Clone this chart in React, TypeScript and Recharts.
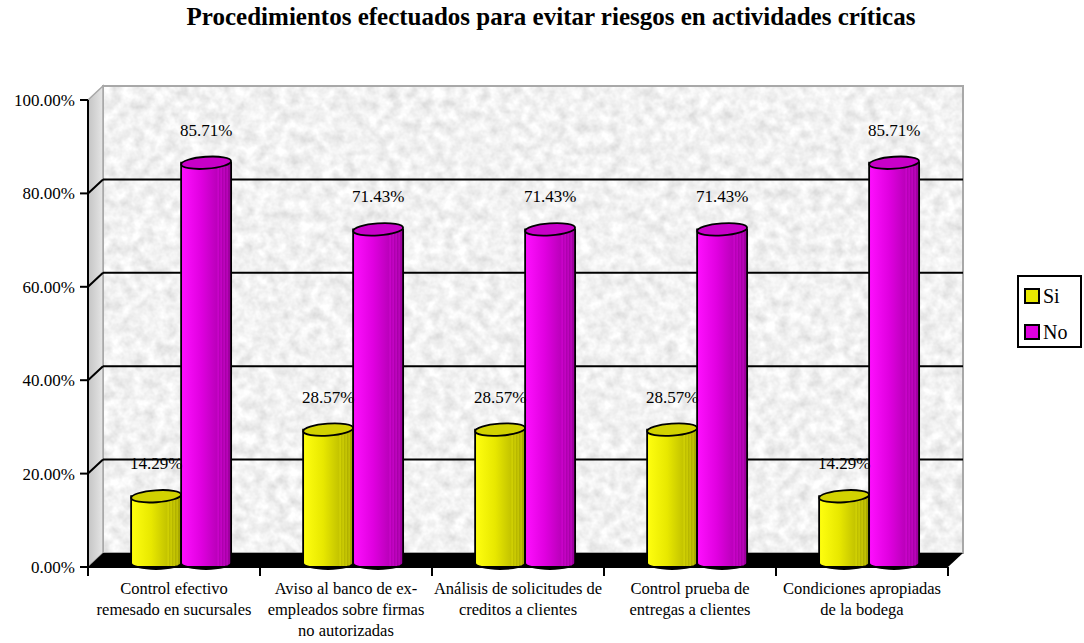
import { BarChart, Bar, XAxis, YAxis, Legend, LabelList, Customized } from 'recharts';

const categories = [
  'Control efectivo\nremesado en sucursales',
  'Aviso al banco de ex-\nempleados sobre firmas\nno autorizadas',
  'Análisis de solicitudes de\ncreditos a clientes',
  'Control prueba de\nentregas a clientes',
  'Condiciones apropiadas\nde la bodega',
];
const siValues = [14.29, 28.57, 28.57, 28.57, 14.29];
const noValues = [85.71, 71.43, 71.43, 71.43, 85.71];
const seriesNames = ['Si', 'No'];
const yTicks = [0, 20, 40, 60, 80, 100];

const data = categories.map((name, i) => ({ name, Si: siValues[i], No: noValues[i] }));

const FONT = "'Liberation Serif', 'Times New Roman', serif";
const W = 1084;
const H = 643;
// plot area (front face)
const PL = 88;
const PR = 948;
const PT = 100;
const PB = 567;
// 3D depth of the back wall
const DX = 15;
const DY = -14;
// cylinders sit halfway into the depth
const BX = 7;
const BY = -4;

const COLORS: Record<string, { light: string; mid: string; dark: string; top: string }> = {
  Si: { light: '#ffff10', mid: '#e8e800', dark: '#a4a400', top: '#d2d200' },
  No: { light: '#ff10ff', mid: '#e000e0', dark: '#9a009a', top: '#c800c8' },
};

const yPos = (v: number) => PB - (v / 100) * (PB - PT);

const Walls = () => (
  <g>
    <defs>
      <filter id="marble" x="0" y="0" width="100%" height="100%">
        <feTurbulence type="fractalNoise" baseFrequency="0.09" numOctaves="3" seed="7" result="n" />
        <feColorMatrix
          in="n"
          type="matrix"
          values="0.45 0 0 0 0.66  0.45 0 0 0 0.66  0.45 0 0 0 0.66  0 0 0 0 1"
          result="g"
        />
        <feComposite in="g" in2="SourceGraphic" operator="in" />
      </filter>
      <linearGradient id="side" x1="0" y1="0" x2="1" y2="0">
        <stop offset="0%" stopColor="#c4c4c4" />
        <stop offset="100%" stopColor="#e6e6e6" />
      </linearGradient>
      {Object.entries(COLORS).map(([k, c]) => (
        <linearGradient key={k} id={`body-${k}`} x1="0" y1="0" x2="1" y2="0">
          <stop offset="0%" stopColor={c.light} />
          <stop offset="40%" stopColor={c.mid} />
          <stop offset="100%" stopColor={c.dark} />
        </linearGradient>
      ))}
    </defs>
    <rect x={PL + DX} y={PT + DY} width={PR - PL} height={PB - PT} fill="#fff" filter="url(#marble)" />
    <rect x={PL + DX} y={PT + DY} width={PR - PL} height={PB - PT} fill="none" stroke="#a8a8a8" strokeWidth={2} />
    <polygon
      points={`${PL},${PT} ${PL + DX},${PT + DY} ${PL + DX},${PB + DY} ${PL},${PB}`}
      fill="url(#side)"
      stroke="#a8a8a8"
      strokeWidth={1.5}
    />
    {yTicks.slice(1, -1).map((v) => (
      <g key={v}>
        <line x1={PL + DX} x2={PR + DX} y1={yPos(v) + DY} y2={yPos(v) + DY} stroke="#000" strokeWidth={2} />
        <line x1={PL} x2={PL + DX} y1={yPos(v)} y2={yPos(v) + DY} stroke="#000" strokeWidth={2} />
      </g>
    ))}
    <polygon points={`${PL},${PB} ${PR},${PB} ${PR + DX},${PB + DY} ${PL + DX},${PB + DY}`} fill="#000" />
    {categories.map((_, i) => i).concat([categories.length]).map((i) => {
      const x = PL + (i * (PR - PL)) / categories.length;
      return <line key={i} x1={x} x2={x} y1={PB} y2={PB + 9} stroke="#000" strokeWidth={2} />;
    })}
  </g>
);

const Cylinder = (props: any) => {
  const { x, y, width, height, kind } = props;
  if (!width || height == null) return null;
  const c = COLORS[kind];
  const rx = width / 2;
  const ry = 6;
  const x0 = x + BX;
  const x1 = x0 + width;
  const top = y + BY;
  const bottom = y + height + BY;
  const body = `M${x0},${top} L${x0},${bottom} A${rx},${ry} 0 0 0 ${x1},${bottom} L${x1},${top} Z`;
  return (
    <g>
      <path d={body} fill={`url(#body-${kind})`} stroke="#000" strokeWidth={1.8} />
      {[4, 7, 10, 13].map((d) => (
        <line key={d} x1={x1 - d} x2={x1 - d} y1={top + 2} y2={bottom + 3} stroke={c.light} strokeOpacity={0.4} strokeWidth={1} />
      ))}
      <ellipse
        cx={x0 + rx}
        cy={top}
        rx={rx}
        ry={ry}
        transform={`rotate(-4 ${x0 + rx} ${top})`}
        fill={c.top}
        stroke="#000"
        strokeWidth={1.8}
      />
    </g>
  );
};

const ValueLabel = (props: any) => {
  const { x, y, width, value } = props;
  return (
    <text x={x + width / 2 + BX} y={y + BY - 27} textAnchor="middle" style={{ fontFamily: FONT, fontSize: 17 }} fill="#000">
      {`${Number(value).toFixed(2)}%`}
    </text>
  );
};

const CategoryTick = (props: any) => {
  const { x, payload } = props;
  const lines = String(payload.value).split('\n');
  return (
    <text x={x} y={PB} textAnchor="middle" style={{ fontFamily: FONT, fontSize: 16.5 }} fill="#000">
      {lines.map((l, i) => (
        <tspan key={i} x={x} dy={i === 0 ? 27 : 21}>
          {l}
        </tspan>
      ))}
    </text>
  );
};

const ValueTick = (props: any) => {
  const { x, y, payload } = props;
  return (
    <text x={x} y={y} dy={6} textAnchor="end" style={{ fontFamily: FONT, fontSize: 17 }} fill="#000">
      {`${Number(payload.value).toFixed(2)}%`}
    </text>
  );
};

const LegendBox = (props: any) => {
  const items = [...(props.payload || [])].sort(
    (a: any, b: any) => seriesNames.indexOf(a.value) - seriesNames.indexOf(b.value)
  );
  return (
    <div
      style={{
        border: '2px solid #000',
        width: 65,
        height: 73,
        boxSizing: 'border-box',
        background: '#fff',
        padding: '7px 0 0 5px',
        fontFamily: FONT,
        fontSize: 20,
        lineHeight: '24px',
      }}
    >
      {items.map((it: any) => (
        <div key={it.value} style={{ display: 'flex', alignItems: 'center', height: 24, marginBottom: 12 }}>
          <span
            style={{
              display: 'inline-block',
              width: 12,
              height: 12,
              border: '2px solid #000',
              background: COLORS[it.value].mid,
              marginRight: 3,
            }}
          />
          <span>{it.value}</span>
        </div>
      ))}
    </div>
  );
};

export default function App() {
  return (
    <div style={{ position: 'absolute', left: 0, top: 0, width: W, height: H, background: '#fff', fontFamily: FONT }}>
      <div
        style={{
          position: 'absolute',
          left: 0,
          top: 3,
          width: 1102,
          textAlign: 'center',
          fontFamily: FONT,
          fontWeight: 'bold',
          fontSize: 25,
        }}
      >
        Procedimientos efectuados para evitar riesgos en actividades críticas
      </div>
      <BarChart
        width={W}
        height={H}
        data={data}
        margin={{ top: PT, right: W - PR, bottom: 16, left: 8 }}
        barCategoryGap="21%"
        barGap={0}
      >
        <Customized component={<Walls />} />
        <XAxis
          dataKey="name"
          height={H - PB - 16}
          axisLine={{ stroke: '#000', strokeWidth: 2 }}
          tickLine={false}
          tick={<CategoryTick />}
          interval={0}
        />
        <YAxis
          width={80}
          domain={[0, 100]}
          ticks={yTicks}
          axisLine={{ stroke: '#000', strokeWidth: 2 }}
          tickLine={{ stroke: '#000', strokeWidth: 2 }}
          tickSize={8}
          tickMargin={5}
          tick={<ValueTick />}
        />
        <Legend
          layout="horizontal"
          verticalAlign="middle"
          align="center"
          content={<LegendBox />}
          wrapperStyle={{ position: 'absolute', left: 1017, top: 275, width: 65 }}
        />
        {seriesNames.map((s) => (
          <Bar key={s} dataKey={s} fill={COLORS[s].mid} isAnimationActive={false} shape={(p: any) => <Cylinder {...p} kind={s} />}>
            <LabelList dataKey={s} content={<ValueLabel />} />
          </Bar>
        ))}
      </BarChart>
    </div>
  );
}
